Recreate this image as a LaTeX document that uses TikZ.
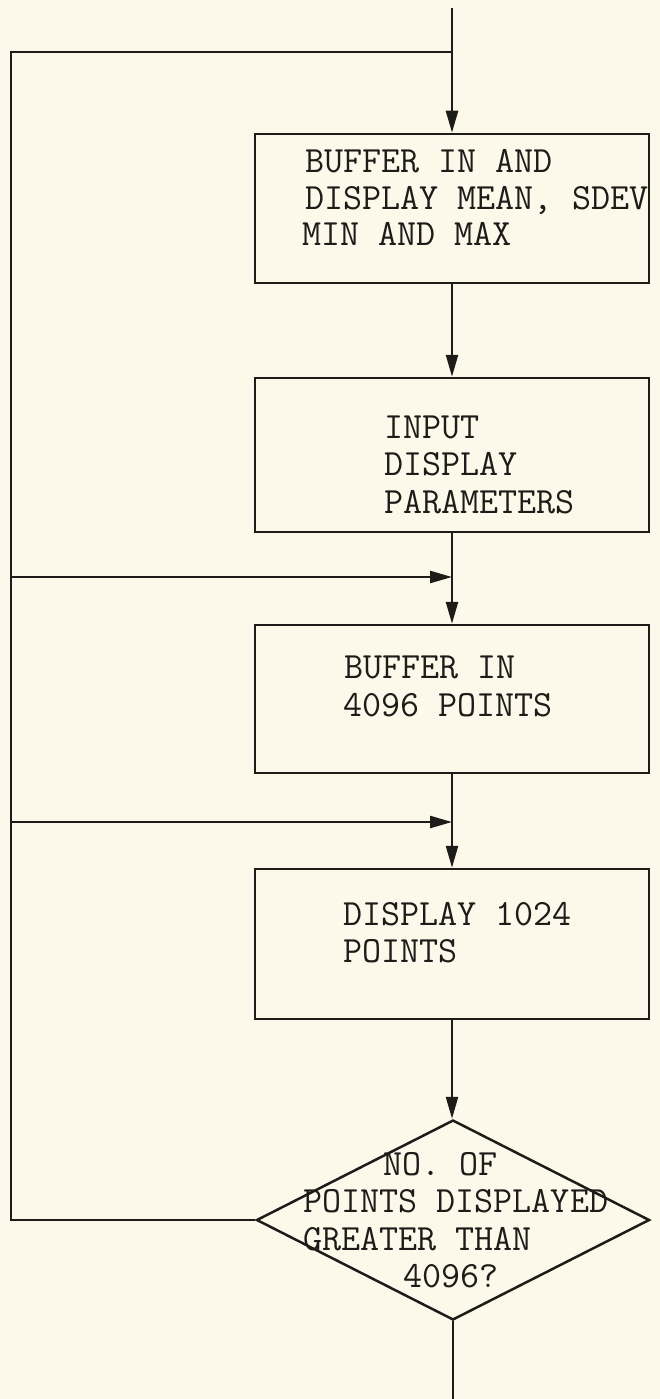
\documentclass[tikz,border=0pt]{standalone}
\usepackage{fontspec}
\usetikzlibrary{arrows.meta,shapes.geometric}
\definecolor{paper}{RGB}{252,249,235}
\definecolor{ink}{RGB}{30,28,25}
\begin{document}
\begin{tikzpicture}[x=1pt,y=-1pt,
  line width=2.5pt, draw=ink,
  stepbox/.style={draw=ink, rectangle, minimum width=394pt, minimum height=#1, inner sep=0pt},
  decbox/.style={draw=ink, diamond, minimum width=393pt, minimum height=200pt, inner sep=0pt},
  twfont/.style={font=\ttfamily\fontsize{37}{40}\selectfont\addfontfeatures{FakeBold=1.5}},
  txt/.style={anchor=base west, inner sep=0pt, text=ink, text height=0.6em, text depth=0.12em, twfont},
  flow/.style={draw=ink, -{Triangle[length=22pt,width=12pt]}},
  plain/.style={draw=ink}]
\fill[paper] (0,0) rectangle (660,1399);
\useasboundingbox (0,0) rectangle (660,1399);
% nodes
\node[stepbox=149pt] (b1) at (452,208.5) {};
\node[stepbox=154pt] (b2) at (452,455) {};
\node[stepbox=148pt] (b3) at (452,699) {};
\node[stepbox=150pt] (b4) at (452,944) {};
\node[decbox] (d) at (453,1220) {};
% texts
\node[txt] (t11) at (304,173) {BUFFER IN AND};
\node[txt] (t12) at (304,209) {DISPLAY MEAN, SDEV};
\node[txt] (t13) at (301,245) {MIN AND MAX};
\node[txt] (t21) at (383,438) {INPUT};
\node[txt] (t22) at (383,475) {DISPLAY};
\node[txt] (t23) at (383,513) {PARAMETERS};
\node[txt] (t31) at (343,678) {BUFFER IN};
\node[txt] (t32) at (342,716) {4096 POINTS};
\node[txt] (t41) at (342,925) {DISPLAY 1024};
\node[txt] (t42) at (342,962) {POINTS};
\node[txt] (t51) at (382,1175) {NO. OF};
\node[txt] (t52) at (302,1212) {POINTS DISPLAYED};
\node[txt] (t53) at (302,1250) {GREATER THAN};
\node[txt] (t54) at (402,1287) {4096?};
% coordinates
\coordinate (start) at (452,8);
\coordinate (finish) at (452,1399);
\coordinate (tr) at (452,52);
\coordinate (tl) at (11,52);
\coordinate (bl) at (11,1220);
\coordinate (l1) at (11,577);
\coordinate (j1) at (452,577);
\coordinate (l2) at (11,822);
\coordinate (j2) at (452,822);
% connectors
\draw[flow] (start) -- (b1.north);
\draw[flow] (b1.south) -- (b2.north);
\draw[flow] (b2.south) -- (b3.north);
\draw[flow] (b3.south) -- (b4.north);
\draw[flow] (b4.south) -- (b4.south |- d.north);
\draw[plain] (d.south) -- (d.south |- finish);
\draw[plain, line join=miter] (d.west) -- (bl) -- (tl) -- (tr);
\draw[flow] (l1) -- (j1);
\draw[flow] (l2) -- (j2);
\end{tikzpicture}
\end{document}
